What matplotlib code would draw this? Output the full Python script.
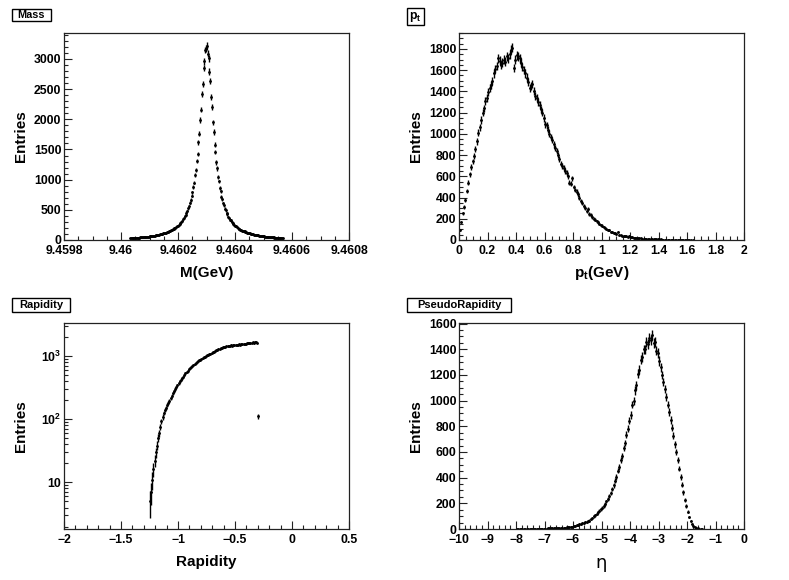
import numpy as np
import matplotlib
matplotlib.use("Agg")
import matplotlib.pyplot as plt
from matplotlib.ticker import MultipleLocator, FuncFormatter, LogLocator, NullFormatter
from matplotlib.patches import Rectangle

plt.rcParams['font.family'] = ['Liberation Sans', 'DejaVu Sans']
plt.rcParams['font.weight'] = 'bold'
plt.rcParams['mathtext.fontset'] = 'custom'
plt.rcParams['mathtext.rm'] = 'Liberation Sans:bold'
plt.rcParams['mathtext.bf'] = 'Liberation Sans:bold'
plt.rcParams['mathtext.it'] = 'Liberation Sans:bold'

# ---------------- data ----------------
MASS_LO, MASS_BW = 9.46003, 3e-6
mass_counts = [
    30, 33, 31, 34, 33, 36, 35, 37, 38, 39,
    40, 41, 43, 42, 45, 46, 47, 49, 51, 50,
    53, 55, 56, 58, 60, 63, 64, 67, 70, 72,
    76, 78, 82, 85, 89, 92, 97, 99, 104, 108,
    112, 118, 121, 127, 133, 137, 146, 150, 160, 165,
    176, 182, 195, 201, 216, 224, 240, 250, 269, 281,
    303, 318, 345, 360, 393, 414, 452, 480, 528, 560,
    620, 662, 735, 790, 882, 952, 1072, 1160, 1310, 1425,
    1620, 1760, 1990, 2160, 2420, 2590, 2850, 2960, 3150, 3170,
    3220, 3090, 3010, 2790, 2640, 2370, 2200, 1950, 1790, 1580,
    1455, 1285, 1185, 1048, 970, 866, 805, 720, 675, 607,
    572, 517, 490, 444, 423, 385, 368, 337, 324, 297,
    287, 263, 256, 235, 229, 211, 206, 190, 187, 172,
    169, 157, 154, 143, 141, 131, 130, 120, 120, 111,
    110, 103, 102, 96, 95, 89, 87, 83, 81, 77,
    76, 72, 70, 67, 65, 62, 61, 58, 57, 55,
    53, 52, 50, 49, 47, 46, 45, 43, 42, 41,
    40, 39, 37, 37, 35, 34, 33, 33, 31, 30,
]

PT_LO, PT_BW = 0.0, 0.01
pt_counts = [
    90, 170, 250, 310, 380, 460, 540, 620, 690, 740,
    790, 860, 930, 1010, 1060, 1130, 1200, 1240, 1310, 1340,
    1390, 1430, 1460, 1500, 1570, 1610, 1640, 1710, 1690, 1650,
    1670, 1700, 1680, 1730, 1710, 1750, 1790, 1810, 1620, 1700,
    1740, 1730, 1710, 1670, 1630, 1600, 1570, 1530, 1490, 1430,
    1450, 1470, 1400, 1360, 1340, 1300, 1270, 1230, 1200, 1150,
    1090, 1080, 1040, 1000, 970, 940, 900, 870, 840, 800,
    760, 720, 700, 680, 650, 630, 600, 540, 530, 580,
    500, 470, 455, 430, 400, 370, 350, 320, 300, 270,
    290, 245, 235, 215, 200, 190, 175, 165, 150, 140,
    135, 122, 115, 105, 97, 90, 80, 76, 68, 62,
    58, 80, 48, 45, 42, 38, 35, 33, 30, 42,
    27, 25, 22, 21, 19, 17, 16, 15, 14, 12,
    12, 11, 10, 9, 9, 8, 7, 7, 6, 6,
    5, 5, 4, 4, 4, 3, 3, 3, 2, 3,
    2, 2, 2, 1, 2, 1, 1, 1, 1, 2,
    1, 1, 1, 0, 1,
]

RAP_LO, RAP_BW = -1.25, 0.01
rap_counts = [
    5, 7, 11, 16, 22, 30, 38, 50, 60, 75,
    92, 108, 125, 140, 150, 165, 180, 195, 212, 235,
    255, 275, 298, 320, 345, 370, 395, 420, 440, 465,
    495, 525, 560, 580, 610, 640, 670, 700, 720, 750,
    775, 800, 830, 850, 870, 890, 910, 940, 960, 990,
    1010, 1030, 1050, 1080, 1100, 1140, 1160, 1190, 1210, 1230,
    1270, 1300, 1320, 1340, 1350, 1370, 1390, 1400, 1420, 1440,
    1450, 1470, 1450, 1480, 1460, 1490, 1470, 1500, 1510, 1490,
    1530, 1520, 1540, 1560, 1550, 1570, 1590, 1580, 1600, 1610,
    1620, 1600, 1640, 1630, 1610, 111,
]

ETA_LO, ETA_BW = -8.0, 0.05
eta_counts = [
    1, 1, 1, 2, 1, 1, 2, 1, 2, 2,
    2, 2, 2, 3, 2, 3, 3, 3, 3, 3,
    3, 3, 4, 4, 4, 5, 5, 5, 6, 6,
    6, 7, 8, 9, 10, 12, 13, 15, 17, 19,
    22, 25, 30, 33, 37, 41, 45, 49, 53, 57,
    60, 66, 75, 86, 98, 107, 118, 130, 142, 155,
    165, 178, 196, 215, 235, 256, 282, 310, 340, 375,
    405, 455, 485, 540, 570, 630, 670, 735, 780, 845,
    890, 970, 1000, 1080, 1120, 1210, 1240, 1320, 1340, 1400,
    1400, 1460, 1440, 1490, 1470, 1510, 1450, 1460, 1390, 1370,
    1310, 1260, 1200, 1145, 1090, 1030, 970, 910, 850, 790,
    725, 660, 598, 535, 470, 405, 345, 285, 228, 180,
    135, 95, 65, 42, 26, 15, 8, 4, 2, 1, 1,
]

titles = ["Mass", r"$\mathbf{p_{t}}$", "Rapidity", "PseudoRapidity"]
xlabels = ["M(GeV)", r"$\mathbf{p_{t}}$(GeV)", "Rapidity", "\u03b7"]

# ---------------- figure ----------------
W, H = 789, 580
fig = plt.figure(figsize=(W / 100, H / 100), dpi=100)

def ax_at(l, t, r, b):
    return fig.add_axes([l / W, 1 - b / H, (r - l) / W, (b - t) / H])

axs = [ax_at(64, 33, 349, 240), ax_at(459, 33, 744, 240),
       ax_at(64, 323, 349, 529), ax_at(459, 323, 744, 529)]

def draw_hist(ax, lo, bw, counts):
    y = np.asarray(counts, dtype=float)
    x = lo + bw * (np.arange(len(y)) + 0.5)
    m = y > 0
    ax.errorbar(x[m], y[m], xerr=bw / 2, yerr=np.sqrt(y[m]), fmt='o', ms=2.0,
                color='black', ecolor='black', elinewidth=1.0, capsize=0,
                mew=0)

def style(ax):
    for s in ax.spines.values():
        s.set_linewidth(0.9)
        s.set_color('#222222')
    ax.tick_params(which='both', direction='in', top=False, right=False,
                   labelsize=8.8, width=0.8, color='#222222')
    ax.tick_params(which='major', length=5.6)
    ax.tick_params(which='minor', length=2.9)
    ax.tick_params(axis='x', pad=3.5)
    ax.tick_params(axis='y', pad=1.8)
    for lab in ax.get_xticklabels() + ax.get_yticklabels():
        lab.set_fontweight('bold')
    ax.set_ylabel("Entries", fontsize=11, fontweight='bold', va='center')
    ax.yaxis.set_label_coords(-0.152, 0.5)

# Mass
ax = axs[0]
draw_hist(ax, MASS_LO, MASS_BW, mass_counts)
ax.set_xlim(9.4598, 9.4608)
ax.set_ylim(0, 3430)
ax.xaxis.set_major_locator(MultipleLocator(0.0002))
ax.xaxis.set_minor_locator(MultipleLocator(0.00005))
ax.xaxis.set_major_formatter(FuncFormatter(lambda v, p: ('%.4f' % v).rstrip('0').rstrip('.')))
ax.yaxis.set_major_locator(MultipleLocator(500))
ax.yaxis.set_minor_locator(MultipleLocator(100))

# pt
ax = axs[1]
draw_hist(ax, PT_LO, PT_BW, pt_counts)
ax.set_xlim(0, 2)
ax.set_ylim(0, 1950)
ax.xaxis.set_major_locator(MultipleLocator(0.2))
ax.xaxis.set_minor_locator(MultipleLocator(0.05))
ax.xaxis.set_major_formatter(FuncFormatter(lambda v, p: ('%.1f' % v).rstrip('0').rstrip('.')))
ax.yaxis.set_major_locator(MultipleLocator(200))
ax.yaxis.set_minor_locator(MultipleLocator(50))

# Rapidity
ax = axs[2]
draw_hist(ax, RAP_LO, RAP_BW, rap_counts)
ax.set_yscale('log')
ax.set_xlim(-2, 0.5)
ax.set_ylim(1.83, 3290)
ax.xaxis.set_major_locator(MultipleLocator(0.5))
ax.xaxis.set_minor_locator(MultipleLocator(0.1))
ax.xaxis.set_major_formatter(FuncFormatter(lambda v, p: ('%.1f' % v).rstrip('0').rstrip('.').replace('-', '\u2212') if abs(v) > 1e-9 else '0'))
ax.yaxis.set_major_locator(LogLocator(base=10, numticks=10))
ax.yaxis.set_minor_locator(LogLocator(base=10, subs=np.arange(2, 10), numticks=10))
ax.yaxis.set_minor_formatter(NullFormatter())
ax.yaxis.set_major_formatter(FuncFormatter(
    lambda v, p: '10' if abs(v - 10) < 1e-6 else r'$\mathbf{10^{%d}}$' % round(np.log10(v))))

# PseudoRapidity
ax = axs[3]
draw_hist(ax, ETA_LO, ETA_BW, eta_counts)
ax.set_xlim(-10, 0)
ax.set_ylim(0, 1605)
ax.xaxis.set_major_locator(MultipleLocator(1))
ax.xaxis.set_minor_locator(MultipleLocator(0.2))
ax.xaxis.set_major_formatter(FuncFormatter(lambda v, p: ('%d' % round(v)).replace('-', '\u2212')))
ax.yaxis.set_major_locator(MultipleLocator(200))
ax.yaxis.set_minor_locator(MultipleLocator(50))

for i, ax in enumerate(axs):
    style(ax)
    if i == 3:
        ax.set_xlabel(xlabels[i], fontsize=13, fontweight='normal',
                      family=['DejaVu Sans'], va='center')
        ax.xaxis.set_label_coords(0.5, -0.165)
    else:
        ax.set_xlabel(xlabels[i], fontsize=11, fontweight='bold', va='center')
        ax.xaxis.set_label_coords(0.5, -0.158)

# title boxes (pixel rectangles)
boxes = [(12, 9, 51, 21), (407, 8, 424, 25), (12, 298, 70, 312), (407, 298, 511, 312)]
tsizes = [7.8, 8.8, 8.0, 8.0]
for (l, t, r, b), txt, fs in zip(boxes, titles, tsizes):
    fig.patches.append(Rectangle((l / W, 1 - b / H), (r - l) / W, (b - t) / H,
                                 transform=fig.transFigure, fc='white', ec='black', lw=1.0))
    fig.text((l + r) / 2 / W, 1 - (t + b) / 2 / H, txt, ha='center', va='center',
             fontsize=fs, fontweight='bold')

fig.savefig("out.png", dpi=100)
